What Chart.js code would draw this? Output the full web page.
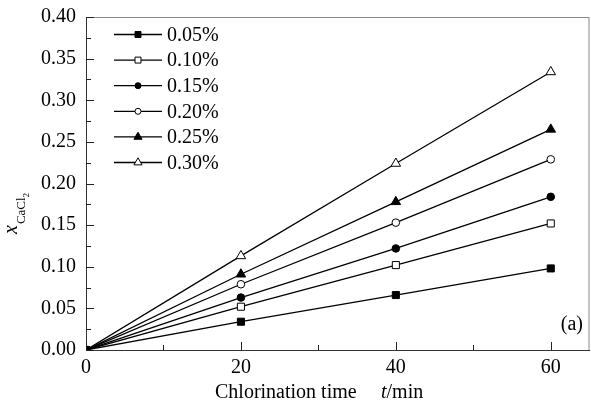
<!DOCTYPE html>
<html>
<head>
<meta charset="utf-8">
<script src="https://cdn.jsdelivr.net/npm/chart.js@4"></script>
<style>
  html, body { margin: 0; padding: 0; background: #fff; }
  #wrap { width: 591px; height: 408px; }
</style>
</head>
<body>
<div id="wrap"><canvas id="chart" width="591" height="408"></canvas></div>
<script>
// --- DATA ---
const times = [0, 20, 40, 60];
const labels = ['0.05%', '0.10%', '0.15%', '0.20%', '0.25%', '0.30%'];
const conc05 = [0, 0.034, 0.066, 0.098];
const conc10 = [0, 0.052, 0.102, 0.152];
const conc15 = [0, 0.063, 0.122, 0.184];
const conc20 = [0, 0.079, 0.153, 0.229];
const conc25 = [0, 0.091, 0.178, 0.265];
const conc30 = [0, 0.113, 0.224, 0.334];
const xTicks = [0, 20, 40, 60];
const xMinor = [10, 30, 50];
const yTicks = [0, 0.05, 0.10, 0.15, 0.20, 0.25, 0.30, 0.35, 0.40];

const series = [conc05, conc10, conc15, conc20, conc25, conc30];
const markers = [
  { style: 'rect', fill: '#000', r: 5 },
  { style: 'rect', fill: '#fff', r: 5 },
  { style: 'circle', fill: '#000', r: 3.8 },
  { style: 'circle', fill: '#fff', r: 3.8 },
  { style: 'triangle', fill: '#000', r: 5.5 },
  { style: 'triangle', fill: '#fff', r: 5.5 }
];

const FONT = "'Liberation Serif', 'Times New Roman', serif";

const datasets = series.map((vals, i) => ({
  label: labels[i],
  data: times.map((t, j) => ({ x: t, y: vals[j] })),
  borderColor: '#000',
  borderWidth: 1.3,
  pointStyle: markers[i].style,
  pointRadius: markers[i].r,
  pointBackgroundColor: markers[i].fill,
  pointBorderColor: '#000',
  pointBorderWidth: 1,
  tension: 0
}));

// ticks, frame, legend and titles drawn on top of the chart area
const decorations = {
  id: 'decorations',
  afterDraw(chart) {
    const { ctx, chartArea: a, scales } = chart;
    const xs = scales.x, ys = scales.y;
    ctx.save();

    // top and right frame
    ctx.strokeStyle = '#8a8a8a';
    ctx.lineWidth = 1;
    ctx.beginPath();
    ctx.moveTo(a.left, a.top + 0.5);
    ctx.lineTo(a.right - 0.5, a.top + 0.5);
    ctx.lineTo(a.right - 0.5, a.bottom);
    ctx.stroke();

    // inward ticks
    ctx.strokeStyle = '#222';
    ctx.beginPath();
    xTicks.forEach(v => {
      const px = Math.round(xs.getPixelForValue(v)) + 0.5;
      ctx.moveTo(px, a.bottom); ctx.lineTo(px, a.bottom - 8);
    });
    xMinor.forEach(v => {
      const px = Math.round(xs.getPixelForValue(v)) + 0.5;
      ctx.moveTo(px, a.bottom); ctx.lineTo(px, a.bottom - 5);
    });
    yTicks.forEach((v, i) => {
      const py = Math.round(ys.getPixelForValue(v)) + 0.5;
      ctx.moveTo(a.left, py); ctx.lineTo(a.left + 8, py);
      if (i < yTicks.length - 1) {
        const pm = Math.round(ys.getPixelForValue(v + 0.025)) + 0.5;
        ctx.moveTo(a.left, pm); ctx.lineTo(a.left + 5, pm);
      }
    });
    ctx.stroke();

    // legend
    ctx.font = '20px ' + FONT;
    ctx.textBaseline = 'middle';
    ctx.textAlign = 'left';
    chart.data.datasets.forEach((ds, i) => {
      const y = 34.5 + i * 25.6;
      ctx.strokeStyle = '#000';
      ctx.lineWidth = 1.3;
      ctx.beginPath();
      ctx.moveTo(114, y); ctx.lineTo(162, y);
      ctx.stroke();
      ctx.fillStyle = markers[i].fill;
      ctx.strokeStyle = '#000';
      ctx.lineWidth = 1;
      Chart.helpers.drawPoint(ctx, {
        pointStyle: markers[i].style,
        radius: markers[i].r - 0.8,
        rotation: 0,
        borderWidth: 1
      }, 138, y);
      ctx.fillStyle = '#000';
      ctx.fillText(ds.label, 167, y + 1);
    });

    // panel label
    ctx.fillStyle = '#000';
    ctx.font = '20px ' + FONT;
    ctx.textAlign = 'right';
    ctx.fillText('(a)', 583, 325);

    // x title
    ctx.textAlign = 'left';
    ctx.textBaseline = 'alphabetic';
    ctx.font = '20px ' + FONT;
    ctx.fillText('Chlorination time', 215, 398);
    ctx.font = 'italic 20px ' + FONT;
    ctx.fillText('t', 381, 398);
    const tw = ctx.measureText('t').width;
    ctx.font = '20px ' + FONT;
    ctx.fillText('/min', 381 + tw, 398);

    // y title: x with subscript CaCl2
    ctx.translate(17, 234);
    ctx.rotate(-Math.PI / 2);
    ctx.font = 'italic 20px ' + FONT;
    ctx.fillText('x', 0, 0);
    let u = ctx.measureText('x').width + 1;
    ctx.font = '13px ' + FONT;
    ctx.fillText('CaCl', u, 8);
    u += ctx.measureText('CaCl').width;
    ctx.font = '9px ' + FONT;
    ctx.fillText('2', u, 12);

    ctx.restore();
  }
};

new Chart(document.getElementById('chart'), {
  type: 'line',
  data: { datasets },
  options: {
    responsive: false,
    animation: false,
    layout: { autoPadding: false, padding: { top: 17, right: 1.5, left: 0, bottom: 0 } },
    plugins: { legend: { display: false }, tooltip: { enabled: false } },
    scales: {
      x: {
        type: 'linear',
        min: 0,
        max: 65,
        afterBuildTicks: s => { s.ticks = xTicks.map(v => ({ value: v })); },
        afterFit: s => { s.height = 58; s.paddingLeft = 0; s.paddingRight = 0; },
        grid: { display: false, drawTicks: false },
        border: { display: true, color: '#333', width: 1 },
        ticks: {
          padding: 6,
          color: '#000',
          font: { family: FONT, size: 20 },
          callback: v => String(v)
        }
      },
      y: {
        type: 'linear',
        min: 0,
        max: 0.40,
        afterBuildTicks: s => { s.ticks = yTicks.map(v => ({ value: v })); },
        afterFit: s => { s.width = 86; s.paddingTop = 0; s.paddingBottom = 0; },
        grid: { display: false, drawTicks: false },
        border: { display: true, color: '#333', width: 1 },
        ticks: {
          padding: 10,
          color: '#000',
          font: { family: FONT, size: 20 },
          callback: v => Number(v).toFixed(2)
        }
      }
    }
  },
  plugins: [decorations]
});
</script>
</body>
</html>
